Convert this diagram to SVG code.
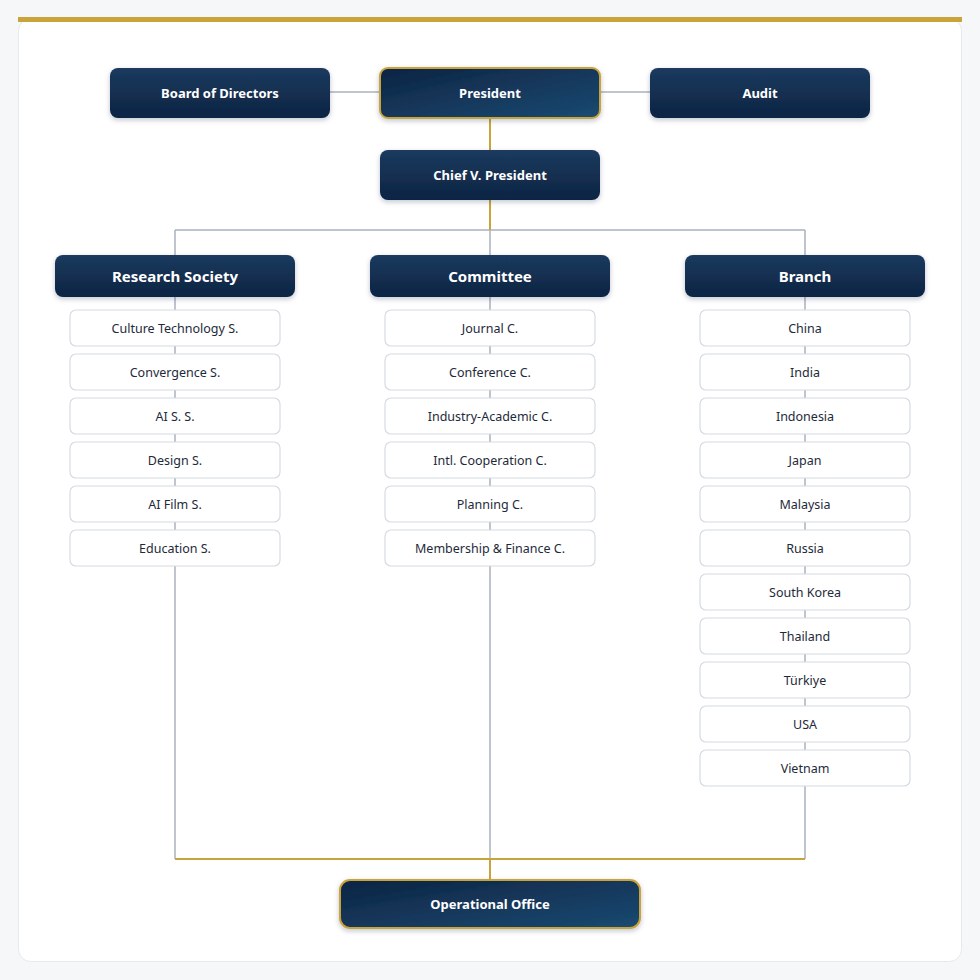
<svg xmlns="http://www.w3.org/2000/svg" width="980" height="980" viewBox="0 0 980 980">
<defs>
<linearGradient id="dk" x1="0" y1="0" x2="0" y2="1"><stop offset="0" stop-color="#1b3a5e"/><stop offset="1" stop-color="#0d2443"/></linearGradient>
<linearGradient id="hl" x1="0" y1="0" x2="1" y2="1"><stop offset="0" stop-color="#0d2443"/><stop offset="1" stop-color="#1b4a72"/></linearGradient>
<filter id="sh" x="-10%" y="-20%" width="120%" height="150%"><feDropShadow dx="0" dy="2" stdDeviation="2.5" flood-color="#0d2443" flood-opacity="0.25"/></filter>
</defs>
<style>
.dk{fill:url(#dk);filter:url(#sh)}
.hl{fill:url(#hl);stroke:#c9a43a;stroke-width:2;filter:url(#sh)}
.it{fill:#fff;stroke:#d6dbe2;stroke-width:1.2}
.tw{fill:#fff;font-family:"Noto Sans",sans-serif;font-weight:bold;font-size:13px;text-anchor:middle}
.th{fill:#fff;font-family:"Noto Sans",sans-serif;font-weight:bold;font-size:15px;text-anchor:middle}
.ti{fill:#1e2a3a;font-family:"Noto Sans",sans-serif;font-size:12.5px;text-anchor:middle}
.g{stroke:#a9b2c0;stroke-width:1.5;fill:none}
.y{stroke:#c9a43a;stroke-width:2;fill:none}
</style>
<rect width="980" height="980" fill="#f6f7f9"/>
<rect x="18.5" y="18.5" width="943" height="943" rx="12" fill="#fff" stroke="#e6e9ee"/>
<rect x="18" y="17" width="944" height="5" fill="#c9a43a"/>
<g id="connectors">
<path class="g" d="M330 92H380M600 92H650"/>
<path class="g" d="M175 230H805M175 230V859M490 230V859M805 230V859"/>
<path class="y" d="M490 118V230"/>
<path class="y" d="M175 859H805M490 859V880"/>
</g>
<g id="board"><rect class="dk" x="110" y="68" width="220" height="50" rx="8"/><text class="tw" x="220" y="97.5">Board of Directors</text></g>
<g id="president"><rect class="hl" x="380" y="68" width="220" height="50" rx="8"/><text class="tw" x="490" y="97.5">President</text></g>
<g id="audit"><rect class="dk" x="650" y="68" width="220" height="50" rx="8"/><text class="tw" x="760" y="97.5">Audit</text></g>
<g id="cvp"><rect class="dk" x="380" y="150" width="220" height="50" rx="8"/><text class="tw" x="490" y="179.5">Chief V. President</text></g>
<g id="research"><rect class="dk" x="55" y="255" width="240" height="42" rx="8"/><text class="th" x="175" y="281.5">Research Society</text></g>
<g id="committee"><rect class="dk" x="370" y="255" width="240" height="42" rx="8"/><text class="th" x="490" y="281.5">Committee</text></g>
<g id="branch"><rect class="dk" x="685" y="255" width="240" height="42" rx="8"/><text class="th" x="805" y="281.5">Branch</text></g>
<g id="rs-items">
<g id="rs1"><rect class="it" x="70" y="310" width="210" height="36" rx="6"/><text class="ti" x="175" y="332.5">Culture Technology S.</text></g>
<g id="rs2"><rect class="it" x="70" y="354" width="210" height="36" rx="6"/><text class="ti" x="175" y="376.5">Convergence S.</text></g>
<g id="rs3"><rect class="it" x="70" y="398" width="210" height="36" rx="6"/><text class="ti" x="175" y="420.5">AI S. S.</text></g>
<g id="rs4"><rect class="it" x="70" y="442" width="210" height="36" rx="6"/><text class="ti" x="175" y="464.5">Design S.</text></g>
<g id="rs5"><rect class="it" x="70" y="486" width="210" height="36" rx="6"/><text class="ti" x="175" y="508.5">AI Film S.</text></g>
<g id="rs6"><rect class="it" x="70" y="530" width="210" height="36" rx="6"/><text class="ti" x="175" y="552.5">Education S.</text></g>
</g>
<g id="c-items">
<g id="c1"><rect class="it" x="385" y="310" width="210" height="36" rx="6"/><text class="ti" x="490" y="332.5">Journal C.</text></g>
<g id="c2"><rect class="it" x="385" y="354" width="210" height="36" rx="6"/><text class="ti" x="490" y="376.5">Conference C.</text></g>
<g id="c3"><rect class="it" x="385" y="398" width="210" height="36" rx="6"/><text class="ti" x="490" y="420.5">Industry-Academic C.</text></g>
<g id="c4"><rect class="it" x="385" y="442" width="210" height="36" rx="6"/><text class="ti" x="490" y="464.5">Intl. Cooperation C.</text></g>
<g id="c5"><rect class="it" x="385" y="486" width="210" height="36" rx="6"/><text class="ti" x="490" y="508.5">Planning C.</text></g>
<g id="c6"><rect class="it" x="385" y="530" width="210" height="36" rx="6"/><text class="ti" x="490" y="552.5">Membership &amp; Finance C.</text></g>
</g>
<g id="b-items">
<g id="b1"><rect class="it" x="700" y="310" width="210" height="36" rx="6"/><text class="ti" x="805" y="332.5">China</text></g>
<g id="b2"><rect class="it" x="700" y="354" width="210" height="36" rx="6"/><text class="ti" x="805" y="376.5">India</text></g>
<g id="b3"><rect class="it" x="700" y="398" width="210" height="36" rx="6"/><text class="ti" x="805" y="420.5">Indonesia</text></g>
<g id="b4"><rect class="it" x="700" y="442" width="210" height="36" rx="6"/><text class="ti" x="805" y="464.5">Japan</text></g>
<g id="b5"><rect class="it" x="700" y="486" width="210" height="36" rx="6"/><text class="ti" x="805" y="508.5">Malaysia</text></g>
<g id="b6"><rect class="it" x="700" y="530" width="210" height="36" rx="6"/><text class="ti" x="805" y="552.5">Russia</text></g>
<g id="b7"><rect class="it" x="700" y="574" width="210" height="36" rx="6"/><text class="ti" x="805" y="596.5">South Korea</text></g>
<g id="b8"><rect class="it" x="700" y="618" width="210" height="36" rx="6"/><text class="ti" x="805" y="640.5">Thailand</text></g>
<g id="b9"><rect class="it" x="700" y="662" width="210" height="36" rx="6"/><text class="ti" x="805" y="684.5">Türkiye</text></g>
<g id="b10"><rect class="it" x="700" y="706" width="210" height="36" rx="6"/><text class="ti" x="805" y="728.5">USA</text></g>
<g id="b11"><rect class="it" x="700" y="750" width="210" height="36" rx="6"/><text class="ti" x="805" y="772.5">Vietnam</text></g>
</g>
<g id="office"><rect class="hl" x="340" y="880" width="300" height="48" rx="10"/><text class="tw" x="490" y="909">Operational Office</text></g>
</svg>
